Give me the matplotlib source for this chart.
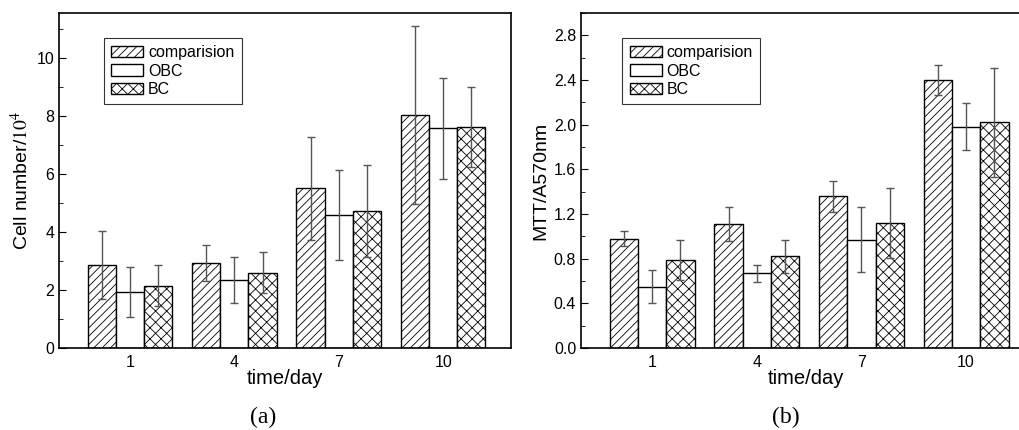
import numpy as np
import matplotlib
matplotlib.use('Agg')
import matplotlib.pyplot as plt
from matplotlib.ticker import MultipleLocator

plt.rcParams['font.family'] = ['Liberation Sans', 'DejaVu Sans']
plt.rcParams['mathtext.fontset'] = 'stix'
plt.rcParams['hatch.color'] = '#3a3a3a'
plt.rcParams['hatch.linewidth'] = 0.6

days = ['1', '4', '7', '10']
series = ['comparision', 'OBC', 'BC']
hatches = ['////', '', 'xxx']

# (a) cell number / 10^4
cell_mean = {
    'comparision': [2.87, 2.92, 5.50, 8.03],
    'OBC':         [1.93, 2.35, 4.57, 7.57],
    'BC':          [2.15, 2.60, 4.73, 7.62],
}
cell_err = {
    'comparision': [1.18, 0.62, 1.78, 3.07],
    'OBC':         [0.87, 0.80, 1.55, 1.75],
    'BC':          [0.70, 0.72, 1.58, 1.38],
}

# (b) MTT / A570nm
mtt_mean = {
    'comparision': [0.98, 1.11, 1.36, 2.40],
    'OBC':         [0.55, 0.67, 0.97, 1.98],
    'BC':          [0.79, 0.82, 1.12, 2.02],
}
mtt_err = {
    'comparision': [0.07, 0.15, 0.14, 0.135],
    'OBC':         [0.145, 0.075, 0.29, 0.21],
    'BC':          [0.18, 0.15, 0.31, 0.49],
}

W, H = 1019, 430
fig = plt.figure(figsize=(W / 100, H / 100), dpi=100)
ax1 = fig.add_axes([59 / W, 82 / H, 452 / W, 335 / H])
ax2 = fig.add_axes([581 / W, 82 / H, 450 / W, 335 / H])

x = np.arange(len(days))
bw = 0.27


def draw(ax, means, errs, ylim, major, minor, ylabel, fmt, legx, xmax):
    for i, s in enumerate(series):
        pos = x + (i - 1) * bw
        ax.bar(pos, means[s], bw, color='white', edgecolor='black',
               hatch=hatches[i], linewidth=1.0, label=s, zorder=2)
        ax.errorbar(pos, means[s], yerr=errs[s], fmt='none', ecolor='#555555',
                    elinewidth=1.0, capsize=3, capthick=1.0, zorder=3)
    ax.set_ylim(*ylim)
    ax.set_xlim(-0.68, xmax)
    ax.set_xticks(x)
    ax.set_xticklabels(days)
    ax.yaxis.set_major_locator(MultipleLocator(major))
    ax.yaxis.set_minor_locator(MultipleLocator(minor))
    if fmt:
        ax.yaxis.set_major_formatter(fmt)
    ax.tick_params(axis='x', length=0, pad=5, labelsize=11.5)
    ax.tick_params(axis='y', which='both', direction='in', labelsize=11.5)
    ax.tick_params(axis='y', which='major', length=5)
    ax.tick_params(axis='y', which='minor', length=3)
    for sp in ax.spines.values():
        sp.set_linewidth(1.2)
    ax.set_xlabel('time/day', fontsize=14.5, labelpad=-1)
    ax.set_ylabel(ylabel, fontsize=14, labelpad=3)
    leg = ax.legend(loc='upper left', bbox_to_anchor=(legx, 0.925),
                    fontsize=11.5, frameon=True, fancybox=False,
                    handlelength=2.0, handleheight=0.7, labelspacing=0.2,
                    handletextpad=0.3, borderpad=0.45, borderaxespad=0)
    leg.get_frame().set_edgecolor('black')
    leg.get_frame().set_linewidth(0.8)


draw(ax1, cell_mean, cell_err, (0, 11.55), 2, 1,
     'Cell number/$\\mathrm{10^4}$', None, 0.1, 3.65)
draw(ax2, mtt_mean, mtt_err, (0, 3.0), 0.4, 0.2,
     'MTT/A570nm', '{x:.1f}', 0.092, 3.62)

fig.text(263 / W, 1 - 417 / H, '(a)', family='Liberation Serif', fontsize=17,
         ha='center', va='center')
fig.text(786 / W, 1 - 417 / H, '(b)', family='Liberation Serif', fontsize=17,
         ha='center', va='center')

fig.savefig('out.png', dpi=100)
